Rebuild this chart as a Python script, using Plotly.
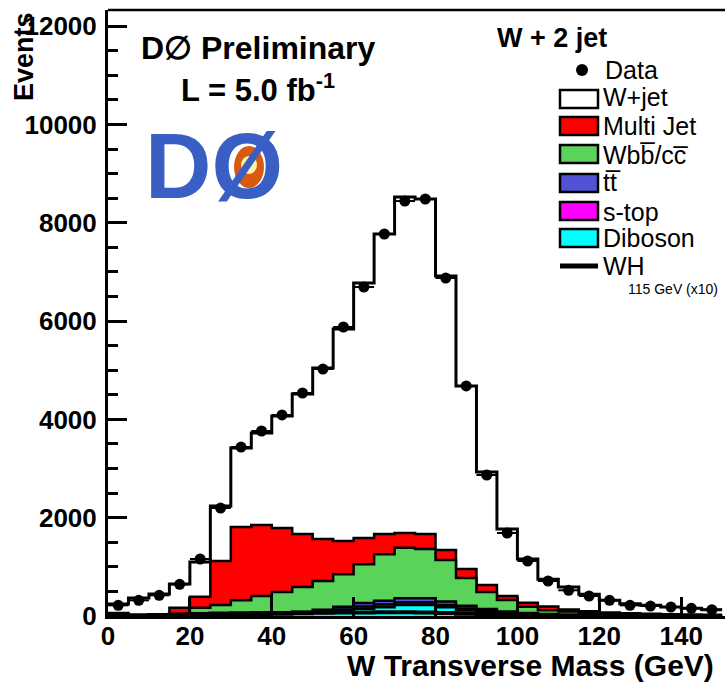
import numpy as np
import plotly.graph_objects as go

# ---------------- data (5 GeV bins, 0-150 GeV) ----------------
bin_edges = list(range(0, 155, 5))
data_counts = [217, 319, 421, 644, 1160, 2197, 3438, 3764, 4090, 4537, 5025, 5880, 6694, 7772, 8443,
               8484, 6877, 4680, 2869, 1689, 1119, 712, 523, 407, 319, 217, 203, 183, 156, 129]
diboson = [2, 3, 4, 5, 7, 10, 15, 22, 30, 42, 60, 95, 150, 177, 222,
           222, 177, 110, 75, 48, 32, 22, 15, 10, 7, 5, 4, 3, 2, 2]
stop = [1, 1, 1, 2, 3, 4, 6, 8, 12, 16, 25, 35, 45, 55, 55,
        55, 48, 45, 30, 18, 10, 6, 4, 3, 2, 2, 1, 1, 1, 0]
ttbar = [1, 1, 2, 2, 3, 4, 6, 10, 16, 28, 42, 60, 68, 78, 83,
         83, 68, 55, 38, 28, 18, 12, 8, 5, 3, 2, 2, 1, 1, 1]
wbb = [4, 5, 7, 31, 157, 206, 292, 367, 430, 504, 585, 658, 788, 945, 1030,
       1003, 846, 563, 345, 231, 130, 78, 63, 42, 28, 21, 15, 11, 8, 5]
multijet = [52, 4, 4, 130, 220, 895, 1492, 1444, 1302, 1078, 855, 678, 536, 413, 299,
            305, 204, 183, 143, 82, 78, 77, 40, 35, 30, 25, 23, 19, 18, 17]
wjet = [184, 352, 430, 480, 710, 1121, 1607, 1872, 2280, 2849, 3479, 4313, 5188, 6104, 6836,
        6816, 5575, 3724, 2299, 1363, 892, 551, 460, 345, 250, 196, 172, 148, 126, 104]
wh_x10 = [10, 15, 20, 30, 40, 50, 55, 60, 62, 65, 68, 70, 72, 75, 75,
          72, 60, 45, 30, 20, 12, 8, 5, 3, 2, 1, 1, 0, 0, 0]

x_ticks = [0, 20, 40, 60, 80, 100, 120, 140]
y_ticks = [0, 2000, 4000, 6000, 8000, 10000, 12000]

# stack order bottom -> top
stack = [
    ("Diboson", diboson, "#00ffff"),
    ("s-top", stop, "#ff00ff"),
    ("tt", ttbar, "#5252d6"),
    ("Wbb/cc", wbb, "#5ad35a"),
    ("Multi Jet", multijet, "#ff0000"),
    ("W+jet", wjet, "#ffffff"),
]

edges = np.array(bin_edges, dtype=float)
centers = (edges[:-1] + edges[1:]) / 2
cum = np.cumsum(np.array([s[1] for s in stack], dtype=float), axis=0)

W, H = 725, 684
L, R, T, B = 108, 0, 10, 68
pw, ph = W - L - R, H - T - B


def px(x):
    return (x - L) / pw


def py(y):
    return (H - B - y) / ph


fig = go.Figure()

# draw from top of stack down so smaller layers sit on top
for i in range(len(stack) - 1, -1, -1):
    name, _, col = stack[i]
    yv = list(cum[i]) + [cum[i][-1]]
    fig.add_trace(go.Scatter(
        x=edges, y=yv, mode="lines",
        line=dict(shape="hv", color="black", width=3 if i == len(stack) - 1 else 2.5),
        fill="tozeroy", fillcolor=col, name=name, hoverinfo="skip"))

fig.add_trace(go.Scatter(
    x=edges, y=list(wh_x10) + [wh_x10[-1]], mode="lines",
    line=dict(shape="hv", color="black", width=4), name="WH"))

fig.add_trace(go.Scatter(
    x=centers, y=data_counts, mode="markers",
    marker=dict(color="black", size=11),
    error_x=dict(type="constant", value=2.5, width=0, thickness=2, color="black"),
    error_y=dict(type="data", array=np.sqrt(data_counts), width=0, thickness=2, color="black"),
    name="Data"))

tickfont = dict(family="Liberation Sans", size=26, color="black", weight="bold")
fig.update_xaxes(range=[0, pw / 4.094], tickvals=x_ticks, ticktext=[str(v) for v in x_ticks],
                 ticks="inside", ticklen=19, tickwidth=2.5, tickcolor="black",
                 showline=True, linewidth=3, linecolor="black", showgrid=False, zeroline=False,
                 tickfont=tickfont, ticklabelstandoff=-5)
fig.update_yaxes(range=[0, ph / 0.04915], tickvals=y_ticks, ticktext=[str(v) for v in y_ticks],
                 ticks="inside", ticklen=19, tickwidth=2.5, tickcolor="black",
                 minor=dict(dtick=500, ticks="inside", ticklen=10, tickwidth=2.5, tickcolor="black"),
                 showline=True, linewidth=3, linecolor="black", showgrid=False, zeroline=False,
                 tickfont=tickfont, ticklabelstandoff=3)

shapes = []
annotations = []
# top frame line
shapes.append(dict(type="line", xref="paper", yref="paper", x0=0, x1=1, y0=1, y1=1,
                   line=dict(color="black", width=2.5)))

bold = "Liberation Sans"
annotations.append(dict(text="<b>Events</b>", textangle=-90, x=px(24), y=py(57), xref="paper", yref="paper",
                        xanchor="center", yanchor="middle", showarrow=False,
                        font=dict(family=bold, size=27, color="black")))
annotations.append(dict(text="<b>W Transverse Mass (GeV)</b>", x=px(716), y=py(665), xref="paper", yref="paper",
                        xanchor="right", yanchor="middle", showarrow=False,
                        font=dict(family=bold, size=30, color="black")))
annotations.append(dict(text="<b>D\u2205 Preliminary</b>", x=px(258), y=py(48), xref="paper", yref="paper",
                        xanchor="center", yanchor="middle", showarrow=False,
                        font=dict(family=bold, size=32, color="black")))
annotations.append(dict(text="<b>L = 5.0 fb<sup>-1</sup></b>", x=px(258), y=py(88), xref="paper", yref="paper",
                        xanchor="center", yanchor="middle", showarrow=False,
                        font=dict(family=bold, size=31, color="black")))

# DØ logo (orange ball + blue letters)
shapes.append(dict(type="circle", xref="paper", yref="paper", x0=px(234), x1=px(264), y0=py(188), y1=py(146),
                   fillcolor="#d85a10", line=dict(width=0), layer="above"))
shapes.append(dict(type="circle", xref="paper", yref="paper", x0=px(241), x1=px(257), y0=py(174), y1=py(156),
                   fillcolor="#fff3a0", line=dict(width=0), layer="above"))
annotations.append(dict(text="<b>DØ</b>", x=px(214), y=py(166), xref="paper", yref="paper",
                        xanchor="center", yanchor="middle", showarrow=False,
                        font=dict(family=bold, size=92, color="#3a5fc4")))

# legend
annotations.append(dict(text="<b>W + 2 jet</b>", x=px(552), y=py(38), xref="paper", yref="paper",
                        xanchor="center", yanchor="middle", showarrow=False,
                        font=dict(family=bold, size=27, color="black")))
leg_font = dict(family="Liberation Sans", size=25, color="black")
shapes.append(dict(type="circle", xref="paper", yref="paper", x0=px(576), x1=px(588), y0=py(76), y1=py(64),
                   fillcolor="black", line=dict(width=0)))
annotations.append(dict(text="Data", x=px(603), y=py(70), xref="paper", yref="paper",
                        xanchor="left", yanchor="middle", showarrow=False, font=leg_font))
legend_rows = [
    ("W+jet", "#ffffff", 99, 97),
    ("Multi Jet", "#ff0000", 126, 126),
    ("Wbb\u0305/cc\u0305", "#5ad35a", 154, 155),
    ("tt\u0305", "#5252d6", 183, 182),
    ("s-top", "#ff00ff", 211, 212),
    ("Diboson", "#00ffff", 238, 238),
]
for lab, col, yb, yt in legend_rows:
    shapes.append(dict(type="rect", xref="paper", yref="paper", x0=px(560), x1=px(598),
                       y0=py(yb + 9), y1=py(yb - 9), fillcolor=col, line=dict(color="black", width=2.5)))
    annotations.append(dict(text=lab, x=px(601), y=py(yt), xref="paper", yref="paper",
                            xanchor="left", yanchor="middle", showarrow=False, font=leg_font))
shapes.append(dict(type="line", xref="paper", yref="paper", x0=px(560), x1=px(598), y0=py(266), y1=py(266),
                   line=dict(color="black", width=5)))
annotations.append(dict(text="WH", x=px(601), y=py(266), xref="paper", yref="paper",
                        xanchor="left", yanchor="middle", showarrow=False, font=leg_font))
annotations.append(dict(text="115 GeV (x10)", x=px(626), y=py(289), xref="paper", yref="paper",
                        xanchor="left", yanchor="middle", showarrow=False,
                        font=dict(family="Liberation Sans", size=14, color="black")))

fig.update_layout(width=W, height=H, margin=dict(l=L, r=R, t=T, b=B, autoexpand=False),
                  paper_bgcolor="white", plot_bgcolor="white", showlegend=False,
                  shapes=shapes, annotations=annotations)

fig.write_html("out.html")
